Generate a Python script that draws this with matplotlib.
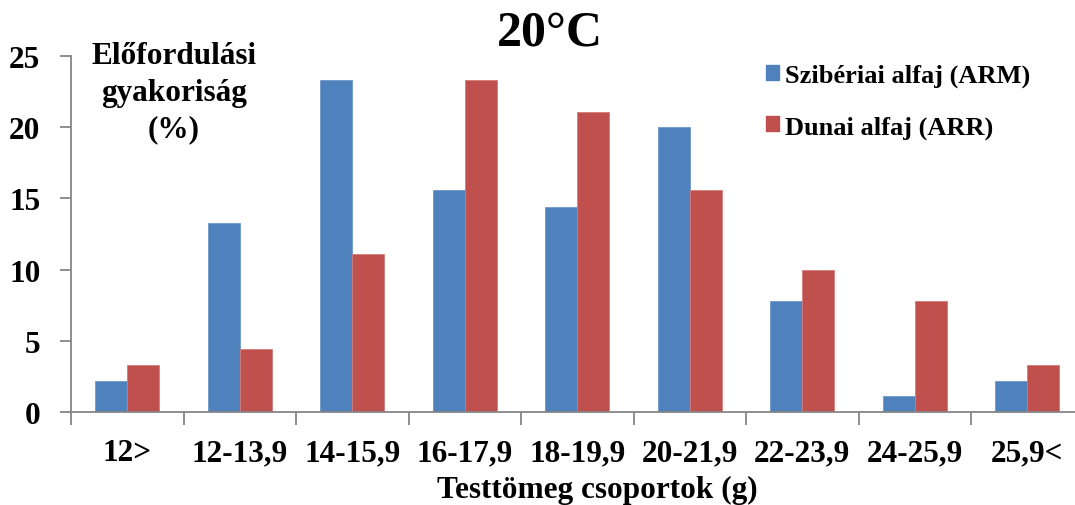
import numpy as np
import matplotlib
matplotlib.use("Agg")
import matplotlib.pyplot as plt
from matplotlib.patches import Patch

# Body-mass groups (g) and occurrence frequencies (%)
categories = ["12>", "12-13,9", "14-15,9", "16-17,9", "18-19,9",
              "20-21,9", "22-23,9", "24-25,9", "25,9<"]
arm_values = [2.2, 13.3, 23.3, 15.6, 14.4, 20.0, 7.8, 1.1, 2.2]
arr_values = [3.3, 4.4, 11.1, 23.3, 21.1, 15.6, 10.0, 7.8, 3.3]
series_labels = ["Szibériai alfaj (ARM)", "Dunai alfaj (ARR)"]
y_ticks = [0, 5, 10, 15, 20, 25]

BLUE = "#4F81BD"
RED = "#C0504D"
AXIS_GRAY = "#868686"
FONT = "Liberation Serif"

W, H = 1075, 506
fig = plt.figure(figsize=(W / 100, H / 100), dpi=100)
ax = fig.add_axes([71 / W, (H - 413) / H, 1012.5 / W, 356 / H])

x = np.arange(len(categories))
bw = 0.286
ax.bar(x - bw / 2, arm_values, bw, color=BLUE, edgecolor="#6F97C9", linewidth=0.6)
ax.bar(x + bw / 2, arr_values, bw, color=RED, edgecolor="#D27C79", linewidth=0.6)

ax.set_xlim(-0.5, len(categories) - 0.5)
ax.set_ylim(0, 25)

for s in ("top", "right"):
    ax.spines[s].set_visible(False)
for s in ("left", "bottom"):
    ax.spines[s].set_color(AXIS_GRAY)
    ax.spines[s].set_linewidth(1.3)

ax.set_yticks(y_ticks)
ax.set_yticklabels([str(v) for v in y_ticks], fontfamily=FONT,
                   fontweight="bold", fontsize=22.5)
ax.tick_params(axis="y", direction="out", length=8, width=1.3,
               color=AXIS_GRAY, pad=14)

ax.set_xticks(x)
ax.set_xticklabels(categories, fontfamily=FONT, fontweight="bold", fontsize=22.5)
ax.tick_params(axis="x", which="major", length=0, pad=19)
ax.set_xticks(np.arange(-0.5, len(categories), 1), minor=True)
ax.tick_params(axis="x", which="minor", direction="out", length=9,
               width=1.3, color=AXIS_GRAY)

ax.set_xlabel("Testtömeg csoportok (g)", fontfamily=FONT, fontweight="bold",
              fontsize=22.5, labelpad=2)
ax.xaxis.set_label_coords((597 - 71) / 1012.5, -(490 - 413) / 356)
ax.xaxis.label.set_va("center")

fig.text(550 / W, 1 - 33 / H, "20°C", fontfamily=FONT, fontweight="bold",
         fontsize=36, ha="center", va="center")

fig.text(174 / W, 1 - 93 / H, "Előfordulási\ngyakoriság\n(%)", fontfamily=FONT,
         fontweight="bold", fontsize=22.5, ha="center", va="center",
         linespacing=1.36)

handles = [Patch(facecolor=BLUE, edgecolor=BLUE),
           Patch(facecolor=RED, edgecolor=RED)]
leg = fig.legend(handles, series_labels, loc="upper left",
                 bbox_to_anchor=(766 / W, 1 - 65 / H),
                 frameon=False, handlelength=0.48, handleheight=0.48,
                 handletextpad=0.25, labelspacing=1.05, borderpad=0,
                 borderaxespad=0,
                 prop={"family": FONT, "weight": "bold", "size": 19})

fig.savefig("out.png", dpi=100)
